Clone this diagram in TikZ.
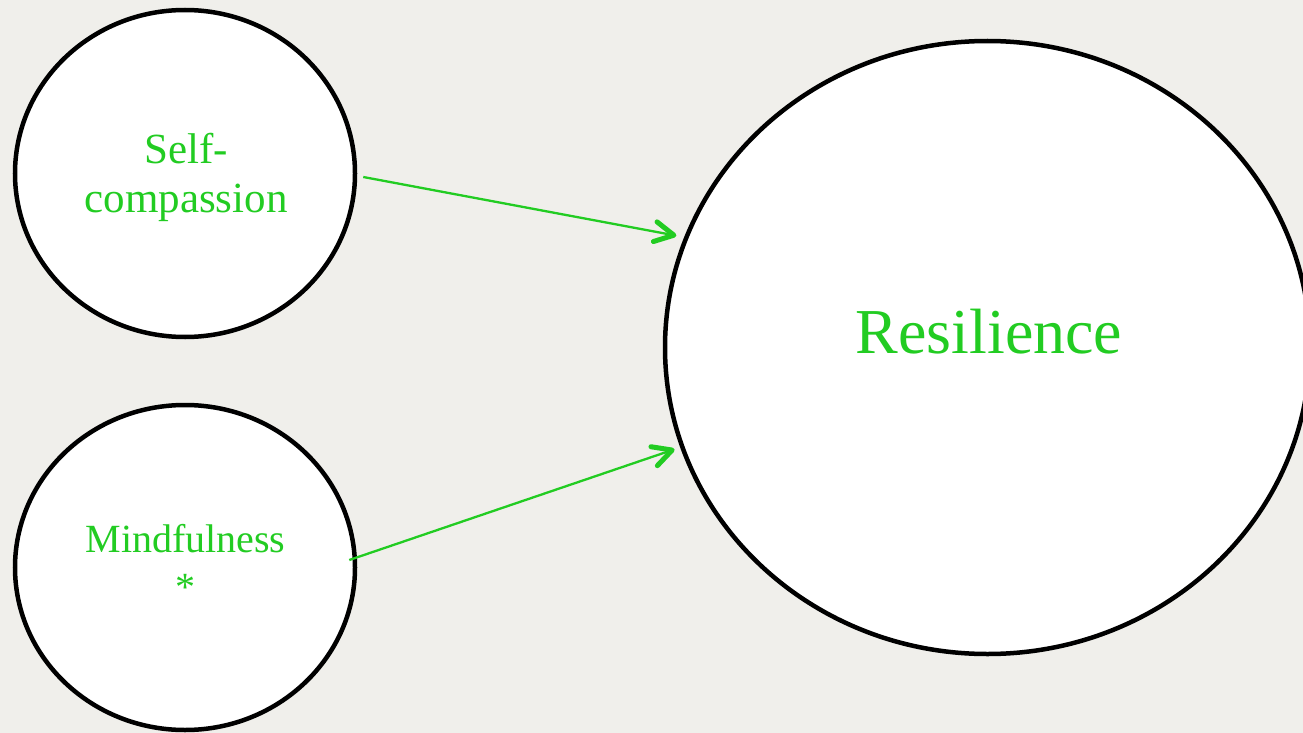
\documentclass[tikz,border=0pt]{standalone}
\usepackage{fontspec}
\setmainfont{Liberation Serif}
\usetikzlibrary{shapes.geometric,arrows.meta}
\definecolor{paper}{RGB}{240,239,235}
\definecolor{leaf}{RGB}{34,204,34}
\begin{document}
\begin{tikzpicture}[x=1pt,y=-1pt,
  bubble/.style={ellipse,draw=black,line width=4.5pt,fill=white,inner sep=0pt},
  lbl/.style={text=leaf,align=center,inner sep=0pt},
  link/.style={draw=leaf,line width=2.3pt,
    -{Straight Barb[length=19pt,width=20pt,line width=5pt,round]}}]
  % canvas
  \useasboundingbox (0,0) rectangle (1303,733);
  \clip (0,0) rectangle (1303,733);
  \fill[paper] (0,0) rectangle (1303,733);

  % the three constructs
  \node[bubble,minimum width=340pt,minimum height=327pt] (sc) at (185,173.5) {};
  \node[bubble,minimum width=340pt,minimum height=325pt] (mf) at (185,567.5) {};
  \node[bubble,minimum width=645pt,minimum height=613pt] (res) at (987.5,347.5) {};

  % labels
  \node[lbl,font=\fontsize{43}{49}\selectfont] (sctext) at (186,177.7) {Self-\\compassion};
  \node[lbl,font=\fontsize{40}{48}\selectfont] (mftext) at (185.5,562.3) {Mindfulness\\*};
  \node[lbl,font=\fontsize{64}{70}\selectfont] (restext) at (989,332) {Resilience};

  % paths into resilience
  \draw[link,shorten >=8pt] ([xshift=6pt,yshift=-3.5pt]sc.east) -- (res.160);
  \draw[link,shorten >=6pt] ([xshift=-8pt,yshift=7.5pt]mf.east) -- (res.198.6);
\end{tikzpicture}
\end{document}
